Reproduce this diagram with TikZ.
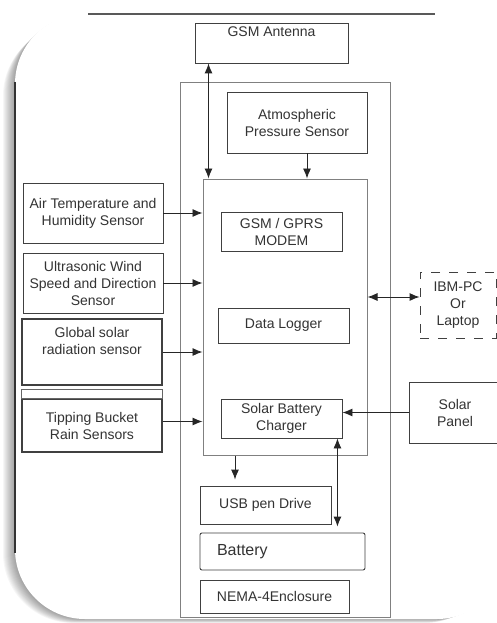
\documentclass[tikz,border=0pt]{standalone}
\usepackage{fontspec}
\setmainfont{Liberation Sans}
\usetikzlibrary{arrows.meta}
\tikzstyle{block} = [font=\fontsize{14}{17}\selectfont, rectangle, align=center, draw=black!75, line width=0.9pt, text=black!80, inner sep=1pt]
\tikzstyle{frame} = [rectangle, draw=black!50, line width=1pt]
\tikzstyle{pcbox} = [block, dash pattern=on 9pt off 9pt]
\tikzstyle{arrow} = [line width=0.9pt, draw=black!85, ->, >={Latex[length=10pt,width=8pt]}]

\begin{document}
\begin{tikzpicture}[x=1pt, y=-1pt]
\useasboundingbox (0,0) rectangle (497,623);
% card with shadow
\foreach \d in {1,...,12}
  \fill[black, opacity=0.035, rounded corners=70pt] (15-\d,14+\d) rectangle (506-\d,619+\d/3);
\fill[white, rounded corners=70pt] (15,14) rectangle (507,619);
\draw[black!65, line width=1.2pt] (88,14) -- (435,14);
\draw[black!80, line width=1.6pt] (15,82) -- (15,553);

  \node (encl) [frame, minimum width=210pt, minimum height=534pt] at (285,350) {};
  \node (logger) [frame, minimum width=164pt, minimum height=276pt] at (285,317) {};
  \node (antenna) [block, minimum width=153pt, minimum height=40pt] at (271.5,43) {GSM Antenna\\\strut};
  \node (atmos) [block, minimum width=140pt, minimum height=61pt] at (297,122.5) {Atmospheric\\Pressure Sensor};
  \node (modem) [block, minimum width=121pt, minimum height=39pt] at (281.5,231.5) {GSM / GPRS\\MODEM};
  \node (datalog) [block, minimum width=131pt, minimum height=35pt] at (283.5,325.5) {Data Logger};
  \node (charger) [block, minimum width=121pt, minimum height=39pt] at (281.5,418.5) {Solar Battery\\Charger};
  \node (ibm) [pcbox, minimum width=76pt, minimum height=66pt] at (458,305) {IBM-PC\\Or\\Laptop};
  \node (panel) [block, minimum width=92pt, minimum height=61pt] at (455,412.5) {Solar\\Panel};
  \node (airtemp) [block, minimum width=140pt, minimum height=60pt] at (93,213) {Air Temperature and\\Humidity Sensor};
  \node (wind) [block, minimum width=140pt, minimum height=60pt] at (93,283) {Ultrasonic Wind\\Speed and Direction\\Sensor};
  \node (solar) [block, line width=1.3pt, minimum width=140pt, minimum height=66pt] at (92,352) {Global solar\\radiation sensor\\\strut};
  \node (tipping) [block, line width=1.3pt, minimum width=140pt, minimum height=53pt] at (92,425.5) {Tipping Bucket\\Rain Sensors};
  \node (usb) [block, minimum width=131pt, minimum height=38pt] at (265.5,505) {USB pen Drive};
  \node (battery) [block, rounded corners=2pt, font=\fontsize{16}{19}\selectfont, inner xsep=17pt, text width=131pt, align=left, minimum height=37pt] at (282.5,551.5) {Battery};
  \node (nema) [block, minimum width=149pt, minimum height=33pt] at (274.5,596.5) {NEMA-4Enclosure};
\draw[black!60, line width=0.8pt] ([yshift=9pt]tipping.north west) rectangle (tipping.north east);

  \draw[arrow, <->] ([xshift=6pt]logger.north west) -- ([xshift=6pt]logger.north west |- antenna.south);
  \draw[arrow] ([xshift=10pt]atmos.south) -- ([xshift=10pt]atmos.south |- logger.north);
  \draw[arrow] (airtemp.east) -- (airtemp.east -| logger.west);
  \draw[arrow] (wind.east) -- (wind.east -| logger.west);
  \draw[arrow] (solar.east) -- (solar.east -| logger.west);
  \draw[arrow] ([yshift=4pt]tipping.east) -- ([yshift=4pt]tipping.east -| logger.west);
  \draw[arrow, <->] ([yshift=8pt]ibm.west) -- ([yshift=8pt]ibm.west -| logger.east);
  \draw[arrow] (panel.west) -- (panel.west -| charger.east);
  \draw[arrow] ([xshift=-50pt]logger.south) -- ([xshift=-50pt,yshift=6pt]logger.south |- usb.north);
  \draw[arrow, <->] ([xshift=-5pt]charger.south east) -- ([xshift=-5pt,yshift=6pt]charger.south east |- battery.north);
\end{tikzpicture}
\end{document}
